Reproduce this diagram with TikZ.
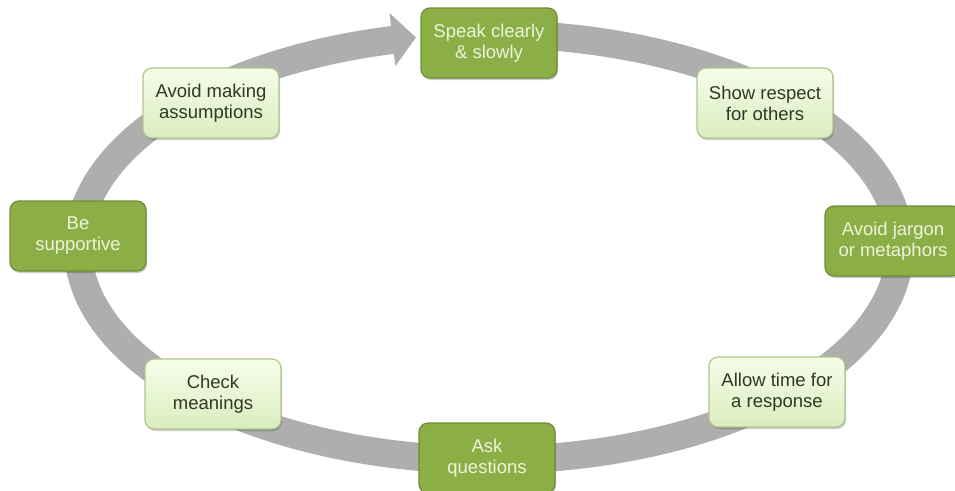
\documentclass[tikz,border=0pt]{standalone}
\usepackage{fontspec}
\setmainfont{Liberation Sans}
\usetikzlibrary{shadows}
\definecolor{ringgray}{HTML}{AEAEAE}
\definecolor{darkfill}{HTML}{8CAE46}
\definecolor{darkedge}{HTML}{6E8F33}
\definecolor{darktext}{HTML}{EEF4DA}
\definecolor{lighttop}{HTML}{F6FDEA}
\definecolor{lightbot}{HTML}{DAEDBE}
\definecolor{lightedge}{HTML}{AFC78A}
\definecolor{lighttext}{HTML}{2E3826}
\begin{document}
\begin{tikzpicture}[x=1pt,y=-1pt,
  box/.style={rounded corners=9pt, minimum width=136pt, minimum height=70pt,
    align=center, font=\fontsize{18.5}{21}\selectfont, line width=1.2pt, inner sep=2pt,
    drop shadow={shadow xshift=1pt, shadow yshift=-2pt, opacity=0.2, fill=black}},
  darkbox/.style={box, draw=darkedge, fill=darkfill, text=darktext},
  lightbox/.style={box, draw=lightedge, top color=lighttop, bottom color=lightbot, text=lighttext}]
\fill[white] (0,0) rectangle (955,490);
\useasboundingbox (0,0) rectangle (955,490);
\draw[ringgray, line width=28pt]
  plot[domain=0:342, samples=240, smooth] ({489+411*cos(85-\x)},{247-213*sin(85-\x)});
\coordinate (tipA) at (389.5,13);
\coordinate (tipB) at (416,37.5);
\coordinate (tipC) at (395.3,66);
\fill[ringgray] (tipA) -- (tipB) -- (tipC) -- cycle;
\node[darkbox]  (s1) at (489,43)  {Speak clearly\\\& slowly};
\node[lightbox] (s2) at (765,103) {Show respect\\for others};
\node[darkbox]  (s3) at (893,241) {Avoid jargon\\or metaphors};
\node[lightbox] (s4) at (777,392) {Allow time for\\a response};
\node[darkbox]  (s5) at (487,458) {Ask\\questions};
\node[lightbox] (s6) at (213,394) {Check\\meanings};
\node[darkbox]  (s7) at (78,236)  {Be\\supportive};
\node[lightbox] (s8) at (211,103) {Avoid making\\assumptions};
\end{tikzpicture}
\end{document}
